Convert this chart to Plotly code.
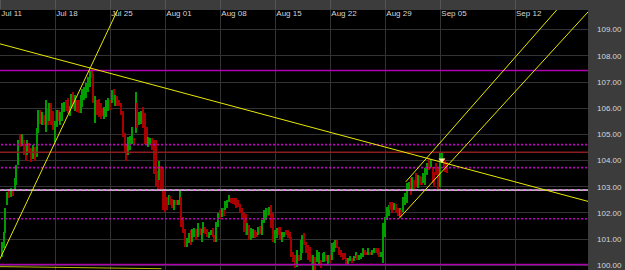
import plotly.graph_objects as go

# ---- 4-hour bars (6 per trading day), low / high / direction (1 = up) ----
LOW = [
    100.31,100.65,101.22,102.29,102.56,102.60,102.63,102.87,103.06,103.82,104.50,104.55,104.20,104.00,104.20,104.30,103.95,104.05,104.00,104.15,105.05,105.40,105.35,105.35,105.10,105.35,105.50,105.35,105.15,104.70,
    105.30,105.50,105.35,105.50,105.85,105.90,105.80,105.70,106.05,106.00,105.90,105.85,105.80,105.80,106.05,106.30,106.40,106.60,106.80,107.15,106.20,105.45,105.75,105.65,105.60,105.70,105.60,105.65,105.90,105.95,
    106.20,106.30,106.10,106.10,106.10,105.73,104.90,104.30,104.00,104.20,104.40,104.65,104.60,105.05,105.25,105.35,105.40,105.25,104.65,104.60,104.50,104.65,104.40,103.50,103.00,102.90,103.25,102.87,102.10,102.03,
    102.10,102.30,102.30,102.20,102.10,102.30,102.30,102.30,101.45,101.25,100.70,100.70,100.85,100.77,100.90,101.07,100.96,101.07,101.15,100.90,101.25,101.20,101.07,101.03,101.15,101.07,100.90,100.90,101.45,101.75,
    101.85,101.90,102.10,102.20,102.40,102.37,102.35,102.30,102.20,102.22,102.00,101.80,101.26,101.15,101.15,100.96,100.96,101.03,101.03,101.07,101.15,101.20,101.15,101.60,101.72,101.90,101.91,101.41,100.90,100.84,
    101.03,101.15,100.96,100.88,101.07,101.15,101.03,100.96,100.30,100.11,99.89,99.93,100.15,100.19,100.46,100.76,100.46,100.19,100.11,100.00,99.81,99.81,100.11,100.00,99.89,100.11,100.11,100.15,100.05,100.07,
    100.19,100.50,100.65,100.65,100.38,100.30,100.19,100.25,100.00,100.00,100.15,100.10,100.15,100.27,100.20,100.20,100.25,100.30,100.38,100.38,100.38,100.40,100.38,100.46,100.46,100.38,100.30,100.30,100.08,101.07,
    101.72,101.90,102.10,101.99,102.10,101.99,101.90,101.83,101.83,102.03,102.29,102.37,102.90,102.67,102.87,102.87,102.98,102.94,103.06,103.06,103.14,103.06,103.44,103.63,103.75,103.14,102.98,103.44,102.87,102.98,
    103.90,103.71,103.56,103.52,
]
HIGH = [
    100.88,101.26,102.18,102.79,102.87,102.94,102.90,103.33,103.82,104.78,105.00,105.00,104.78,104.60,104.78,104.68,104.47,104.60,104.50,105.24,105.92,105.95,105.85,105.75,106.30,106.00,106.20,106.20,105.90,105.50,
    105.93,105.95,105.85,106.20,106.25,106.30,106.40,106.10,106.55,106.60,106.50,106.30,106.30,106.50,106.75,106.80,106.95,107.20,107.45,107.50,107.30,106.45,106.30,106.35,106.20,106.00,106.05,106.30,106.40,106.30,
    106.70,106.75,106.50,106.45,106.30,106.20,105.90,105.05,104.65,104.90,104.95,105.28,104.85,106.60,106.20,105.85,105.90,106.05,105.80,105.30,104.90,104.85,104.85,104.80,104.80,103.60,104.00,103.80,103.75,102.87,
    102.60,102.67,102.65,102.55,102.48,102.50,102.48,102.87,102.60,101.85,101.40,101.05,101.25,101.33,101.40,101.42,101.40,101.60,101.42,101.40,101.64,101.45,101.40,101.26,101.35,101.42,101.15,101.65,102.00,102.10,
    102.20,102.20,102.45,102.48,102.67,102.56,102.56,102.56,102.56,102.50,102.35,102.18,101.99,101.95,101.60,101.53,101.42,101.40,101.34,101.26,101.45,101.50,101.72,102.10,102.20,102.18,102.22,102.29,102.00,101.34,
    101.42,101.45,101.45,101.26,101.26,101.34,101.34,101.26,101.07,100.50,100.38,100.57,100.38,100.96,101.15,101.22,100.88,100.76,100.69,100.38,100.38,100.30,100.57,100.50,100.19,100.46,100.50,100.38,100.38,100.38,
    100.84,100.88,100.96,100.96,100.69,100.57,100.46,100.46,100.27,100.27,100.34,100.27,100.34,100.50,100.38,100.38,100.46,100.65,100.57,100.50,100.65,100.50,100.60,100.65,100.65,100.65,100.57,100.50,101.60,101.83,
    102.22,102.29,102.41,102.41,102.37,102.33,102.20,102.20,102.10,102.60,102.75,103.14,103.18,103.33,103.37,103.25,103.52,103.44,103.40,103.37,103.52,103.71,103.90,104.09,104.05,103.75,103.56,103.90,103.75,104.28,
    104.32,104.09,104.01,103.94,
]
UP = [
    1,1,1,1,0,1,0,1,1,1,0,1,0,0,1,0,0,1,0,1,1,0,1,0,1,0,1,0,0,1,
    1,0,1,1,1,0,0,1,1,0,1,0,0,1,1,1,1,1,1,0,0,1,0,0,0,0,1,1,1,0,
    1,0,1,0,0,0,0,0,0,1,1,1,0,1,0,1,1,0,0,0,1,1,0,0,0,0,1,0,0,0,
    0,1,0,0,1,0,1,1,0,0,0,1,1,0,1,1,0,1,0,1,1,0,0,1,1,0,0,1,1,0,
    1,0,1,1,1,0,0,0,0,0,0,0,0,0,1,0,1,1,0,0,1,0,1,1,1,0,1,0,0,1,
    1,0,0,1,1,0,0,0,0,0,0,1,0,1,1,0,0,0,0,0,1,0,1,1,0,1,1,0,1,0,
    1,1,1,0,0,0,0,0,0,1,1,0,1,1,0,1,1,1,0,0,1,0,1,1,0,0,0,1,1,1,
    1,1,0,0,1,0,0,1,0,1,1,1,1,0,1,0,0,1,0,0,1,1,1,0,1,0,0,0,0,1,
    1,0,0,0,
]
BARS_PER_DAY = 6

# ---- axes (x in trading days from Jul 11) ----
TICK_DAYS = [0, 5, 10, 15, 20, 25, 30, 35, 40, 46.79]
TICK_LABELS = ["Jul 11", "Jul 18", "Jul 25", "Aug 01", "Aug 08", "Aug 15",
               "Aug 22", "Aug 29", "Sep 05", "Sep 12"]
X_RANGE = [-0.073, 53.38]
Y_RANGE = [99.82, 109.75]

# ---- drawn horizontal levels ----
SOLID_LEVELS = [107.44, 100.03]
RED_LEVEL = 104.32
DOTTED_LEVELS = [104.61, 103.73, 101.78]
DASHED_LEVEL = 102.87

# ---- drawn trend lines: (day, price) endpoints ----
TREND_STEEP = [(-0.6, 99.78), (11.0, 110.09)]
TREND_DOWN = [(-0.1, 108.46), (54.0, 102.37)]
CHANNEL_UPPER = [(36.82, 103.19), (52.1, 110.5)]
CHANNEL_LOWER = [(36.21, 101.79), (54.5, 110.19)]
BOTTOM_LINE = [(-0.1, 99.95), (14.6, 99.87)]
LAST_MARK = (40.1, 104.02)

fig = go.Figure()
span = [X_RANGE[0] - 1, X_RANGE[1] + 1]

for lv in SOLID_LEVELS:
    fig.add_trace(go.Scatter(x=span, y=[lv, lv], mode="lines",
                             line=dict(color="#b000b0", width=1.6), hoverinfo="skip"))
fig.add_trace(go.Scatter(x=span, y=[RED_LEVEL, RED_LEVEL], mode="lines",
                         line=dict(color="#8e1c1c", width=1.6), hoverinfo="skip"))
for lv in DOTTED_LEVELS:
    fig.add_trace(go.Scatter(x=span, y=[lv, lv], mode="lines",
                             line=dict(color="#c000c0", width=1.6, dash="2px,2px"), hoverinfo="skip"))
fig.add_trace(go.Scatter(x=span, y=[DASHED_LEVEL, DASHED_LEVEL], mode="lines",
                         line=dict(color="#b8b8b8", width=1.6), hoverinfo="skip"))
fig.add_trace(go.Scatter(x=span, y=[DASHED_LEVEL, DASHED_LEVEL], mode="lines",
                         line=dict(color="#ff70ff", width=1.6, dash="3px,3px"), hoverinfo="skip"))

xs = [(i + 0.5) / BARS_PER_DAY for i in range(len(LOW))]
cols = ["#009c00" if u else "#a80000" for u in UP]
fig.add_trace(go.Bar(x=xs, base=LOW, y=[h - l for h, l in zip(HIGH, LOW)],
                     width=0.085, marker=dict(color=cols, line=dict(width=0)),
                     hoverinfo="skip"))

for seg, col in [(TREND_STEEP, "#e8e800"), (TREND_DOWN, "#e8e800"),
                 (CHANNEL_UPPER, "#e8e800"), (CHANNEL_LOWER, "#e8e800"),
                 (BOTTOM_LINE, "#b8b800")]:
    fig.add_trace(go.Scatter(x=[p[0] for p in seg], y=[p[1] for p in seg], mode="lines",
                             line=dict(color=col, width=1), hoverinfo="skip"))

fig.add_trace(go.Scatter(x=[LAST_MARK[0]], y=[LAST_MARK[1]], mode="markers",
                         marker=dict(symbol="triangle-down", size=6, color="#ffeeaa"),
                         hoverinfo="skip"))

font = dict(family="Liberation Sans, Arial, sans-serif", size=8, color="#d6d6d6")
fig.update_layout(
    width=625, height=270,
    margin=dict(l=0, r=37, t=10, b=0),
    paper_bgcolor="#3c3c3c", plot_bgcolor="#000000",
    showlegend=False, bargap=0,
    xaxis=dict(range=X_RANGE, side="top", tickvals=TICK_DAYS, ticktext=TICK_LABELS,
               showgrid=True, gridcolor="#333333", gridwidth=1, zeroline=False,
               ticks="outside", ticklen=10, tickcolor="#555555", tickwidth=1,
               ticklabelposition="outside right", ticklabelstandoff=-10,
               tickfont=font, fixedrange=True),
    yaxis=dict(range=Y_RANGE, side="right", tick0=100, dtick=1, tickformat=".2f",
               showgrid=True, gridcolor="#333333", gridwidth=1, zeroline=False,
               ticks="", ticklabelstandoff=8, ticklabeloverflow="allow",
               tickfont=font, fixedrange=True),
)
fig.write_html("out.html")
